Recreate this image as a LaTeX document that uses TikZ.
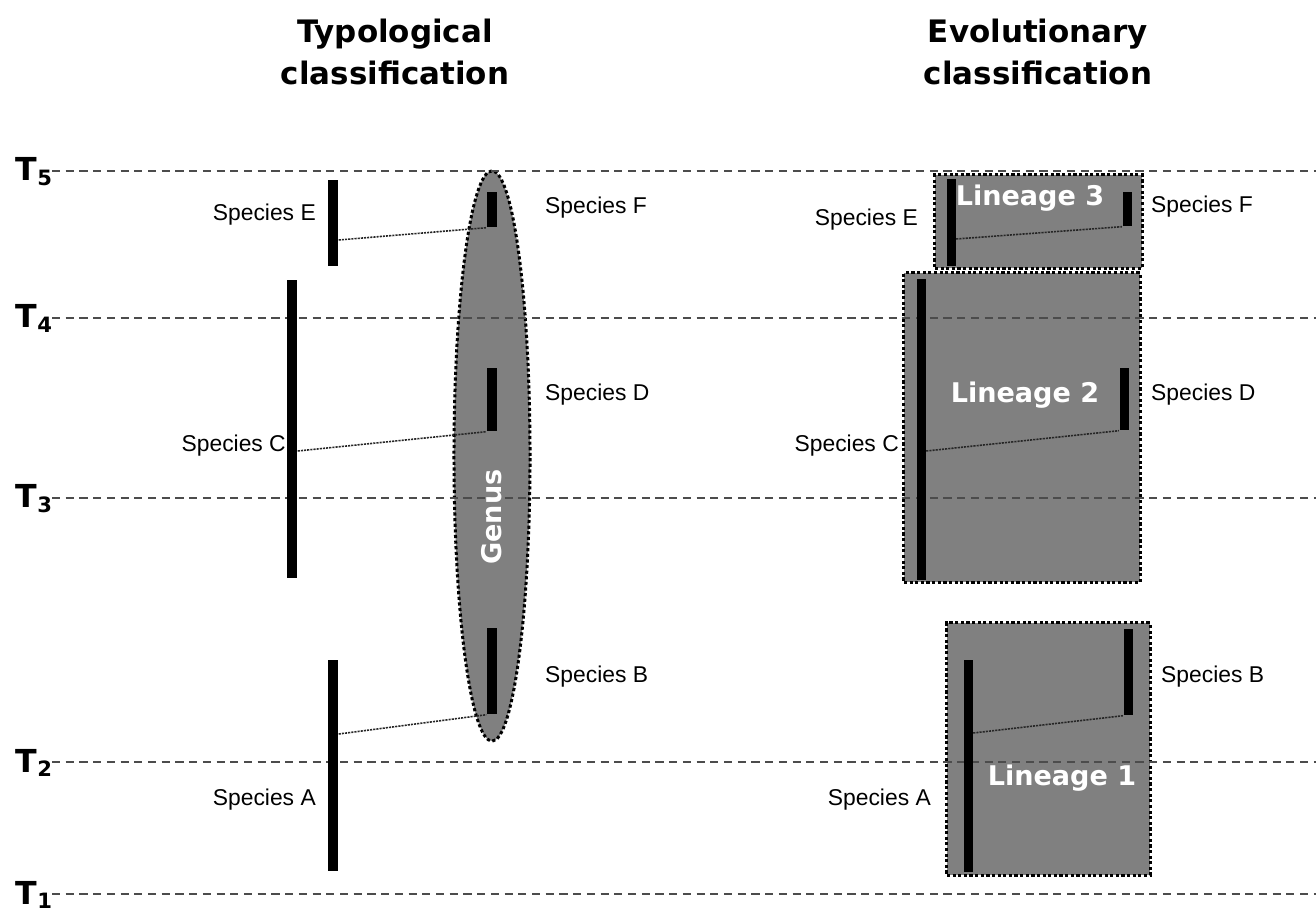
\documentclass[tikz,border=0pt]{standalone}
\usepackage{fontspec}
\setmainfont{Liberation Sans}
\newfontfamily\heavyfont{DejaVu Sans}
\usepackage{tikz}
\usetikzlibrary{shapes.geometric}
\usetikzlibrary{positioning}

\tikzset{
  tline/.style={black!70,line width=0.35pt,dash pattern=on 2.3pt off 1.6pt},
  bar/.style={rectangle,fill=black,inner sep=0pt,minimum width=0.1cm},
  link/.style={black!85,line width=0.45pt,dash pattern=on 0.6pt off 0.3pt},
  group/.style={draw=black,fill=gray,line width=0.85pt,dash pattern=on 0.9pt off 0.7pt,inner sep=0pt},
  spec/.style={font=\fontsize{6.5}{7}\selectfont,inner sep=1pt},
  grouplabel/.style={text=white,font=\heavyfont\bfseries\fontsize{7.7}{8}\selectfont,inner sep=0pt},
  coltitle/.style={align=center,font=\heavyfont\bfseries\fontsize{8.8}{12.2}\selectfont},
  tlabel/.style={font=\heavyfont\bfseries\fontsize{9}{10}\selectfont,inner sep=0pt}
}

\begin{document}
\begin{tikzpicture}[x=0.01cm,y=-0.01cm]
\useasboundingbox (0,0) rectangle (1316,910);
% titles
\node[coltitle] (typ) at (395,52) {Typological\\classification};
\node[coltitle] (evo) at (1038,52) {Evolutionary\\classification};
% grey groups
\node[group,ellipse,minimum width=0.76cm,minimum height=5.7cm] (genus) at (492,456) {};
\node[group,minimum width=2.07cm,minimum height=0.93cm] (lin3) at (1038.5,221.5) {};
\node[group,minimum width=2.36cm,minimum height=3.09cm] (lin2) at (1022,427.5) {};
\node[group,minimum width=2.03cm,minimum height=2.52cm] (lin1) at (1048.5,749) {};
% time lines
\foreach \y/\n in {171/5,318/4,498/3,762/2,894/1}{
  \node[tlabel,anchor=base west] (T\n) at (15,\y+10) {T\textsubscript{\n}};
  \draw[tline] (52,\y) -- (1316,\y);
}
% typological side
\node[bar,minimum height=0.86cm] (tE) at (333,223) {};
\node[bar,minimum height=2.98cm] (tC) at (292,429) {};
\node[bar,minimum height=2.11cm] (tA) at (333,765.5) {};
\node[bar,minimum height=0.35cm] (tF) at (492,209.5) {};
\node[bar,minimum height=0.63cm] (tD) at (492,399.5) {};
\node[bar,minimum height=0.86cm] (tB) at (492,671) {};
\draw[link] (tE.east |- 0,240) -- (tF.south west);
\draw[link] (tC.east |- 0,451) -- (tD.south west);
\draw[link] (tA.east |- 0,734) -- (tB.south west);
\node[spec,anchor=east] (tEl) at (320,215) {Species E};
\node[spec,anchor=east] (tCl) at (290,446) {Species C};
\node[spec,anchor=east] (tAl) at (320,800) {Species A};
\node[spec,anchor=west] (tFl) at (541,208) {Species F};
\node[spec,anchor=west] (tDl) at (541,395) {Species D};
\node[spec,anchor=west] (tBl) at (541,677) {Species B};
\node[grouplabel,rotate=90] (genusl) at (492,517) {Genus};
% evolutionary side
\node[bar,minimum width=0.09cm,minimum height=0.87cm] (eE) at (951,222.5) {};
\node[bar,minimum width=0.09cm,minimum height=3.01cm] (eC) at (921,429.5) {};
\node[bar,minimum width=0.09cm,minimum height=2.12cm] (eA) at (968,766) {};
\node[bar,minimum width=0.09cm,minimum height=0.34cm] (eF) at (1127,209) {};
\node[bar,minimum width=0.09cm,minimum height=0.62cm] (eD) at (1124,399) {};
\node[bar,minimum width=0.09cm,minimum height=0.86cm] (eB) at (1128,672) {};
\draw[link] (eE.east |- 0,239) -- (eF.south west);
\draw[link] (eC.east |- 0,451) -- (eD.south west);
\draw[link] (eA.east |- 0,733) -- (eB.south west);
\node[spec,anchor=east] (eEl) at (922,220) {Species E};
\node[spec,anchor=east] (eCl) at (903,446) {Species C};
\node[spec,anchor=east] (eAl) at (935,800) {Species A};
\node[spec,anchor=west] (eFl) at (1147,207) {Species F};
\node[spec,anchor=west] (eDl) at (1147,395) {Species D};
\node[spec,anchor=west] (eBl) at (1157,677) {Species B};
\node[grouplabel] (lin3l) at (1030,198) {Lineage 3};
\node[grouplabel] (lin2l) at (1025,395) {Lineage 2};
\node[grouplabel] (lin1l) at (1062,778) {Lineage 1};
\end{tikzpicture}
\end{document}
